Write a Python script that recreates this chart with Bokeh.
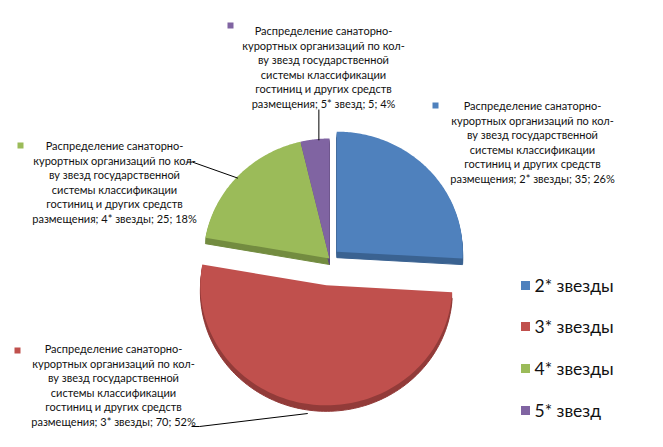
import numpy as np
from bokeh.plotting import figure
from bokeh.models import Range1d
from bokeh.core.properties import value
from bokeh.embed import file_html
from bokeh.resources import INLINE

# ---- data ----
categories = ["2* звезды", "3* звезды", "4* звезды", "5* звезд"]
values = [35, 70, 25, 5]
percents = [26, 52, 18, 4]
label_prefix = ["Распределение санаторно-",
                "курортных организаций по кол-",
                "ву звезд государственной",
                "системы классификации",
                "гостиниц и других средств"]

# ---- styles ----
top_colors = ["#4F81BD", "#C0504D", "#9BBB59", "#8064A2"]
side_colors = ["#3A6291", "#923B39", "#738C40", "#5E4A7A"]
explode = [10, 27, 0, 0]          # px along bisector
CX, CY, RX, RY, TH = 329, 258, 126, 120, 6
label_pos = [(532, 105), (113, 348), (114, 145), (323, 30)]   # centre x, first-line y
marker_pos = [(435, 105), (17, 350), (20, 145), (230, 25)]
LH = 14.6
FONT = "Lato"

p = figure(width=663, height=447, output_backend="svg", toolbar_location=None,
           x_range=Range1d(0, 663), y_range=Range1d(447, 0), min_border=0)
p.axis.visible = False
p.grid.visible = False
p.outline_line_color = None
p.background_fill_color = "white"
p.border_fill_color = "white"

total = float(sum(values))
fr = np.array(values) / total
ends = np.cumsum(fr) * 2 * np.pi
starts = ends - fr * 2 * np.pi

def slice_pts(i, dy=0.0):
    a0, a1 = starts[i], ends[i]
    mid = 0.5 * (a0 + a1)
    cx = CX + explode[i] * np.sin(mid)
    cy = CY - explode[i] * np.cos(mid)
    th = np.linspace(a0, a1, 120)
    xs = np.concatenate([[cx], cx + RX * np.sin(th)])
    ys = np.concatenate([[cy], cy - RY * np.cos(th)]) + dy
    return xs, ys, cx, cy

# sides (extrusion) first
for i in range(len(values)):
    xs, ys, _, _ = slice_pts(i, TH)
    p.patch(xs, ys, fill_color=side_colors[i], line_color=side_colors[i], line_width=1)
    for k in range(1, TH):
        xs2, ys2, _, _ = slice_pts(i, k)
        p.patch(xs2, ys2, fill_color=side_colors[i], line_color=None)
for i in range(len(values)):
    xs, ys, _, _ = slice_pts(i)
    p.patch(xs, ys, fill_color=top_colors[i], line_color=None)

# leader lines (from label to slice rim midpoint)
def rim_mid(i, extra=0):
    mid = 0.5 * (starts[i] + ends[i])
    _, _, cx, cy = slice_pts(i)
    return cx + RX * np.sin(mid), cy - RY * np.cos(mid) + extra

# purple: vertical from label bottom
px, py = rim_mid(3)
p.line([px + 4, px + 4], [label_pos[3][1] + 5 * LH + 6, py + 1],
       line_color="black", line_width=1)
# green
gx, gy = rim_mid(2)
p.line([label_pos[2][0] + 72, label_pos[2][0] + 78, gx], [label_pos[2][1] + LH + 2, label_pos[2][1] + LH + 2, gy + 2],
       line_color="black", line_width=1)
# red
rx_, ry_ = rim_mid(1, TH)
p.line([label_pos[1][0] + 78, label_pos[1][0] + 86, rx_ - 4], [label_pos[1][1] + 5 * LH + 5, label_pos[1][1] + 5 * LH + 5, ry_ + 3],
       line_color="black", line_width=1)

# labels
for i in range(len(values)):
    lines = label_prefix + [f"размещения; {categories[i]}; {values[i]}; {percents[i]}%"]
    lx, ly = label_pos[i]
    xs = [lx] * len(lines)
    ys = [ly + k * LH for k in range(len(lines))]
    p.text(xs, ys, text=lines, text_font=value(FONT), text_font_size="11px",
           text_align="center", text_baseline="middle", text_color="#111111")
    mx, my = marker_pos[i]
    p.rect([mx], [my], width=6, height=6, fill_color=top_colors[i], line_color=None)

# legend
leg_y = [285, 326, 368, 410]
p.rect([525] * 4, leg_y, width=9, height=9, fill_color=top_colors, line_color=None)
p.text([534] * 4, leg_y, text=categories, text_font=value(FONT), text_font_size="17.5px",
       text_align="left", text_baseline="middle", text_color="#111111")

open("out.html", "w").write(file_html(p, INLINE))
